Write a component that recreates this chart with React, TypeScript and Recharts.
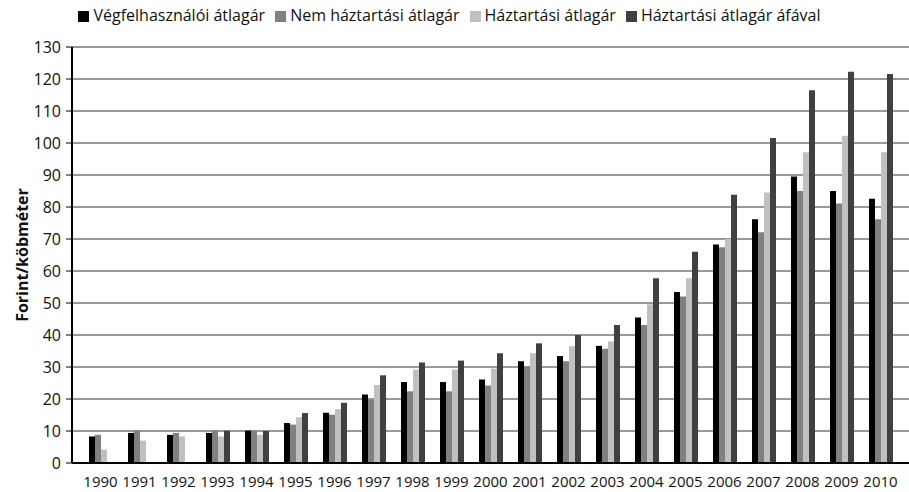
import { Bar, BarChart, CartesianGrid, Legend, XAxis, YAxis } from "recharts";

const years = [
  "1990", "1991", "1992", "1993", "1994", "1995", "1996", "1997", "1998", "1999", "2000",
  "2001", "2002", "2003", "2004", "2005", "2006", "2007", "2008", "2009", "2010"
];

// Végfelhasználói átlagár
const endUserAvg = [
  8.3, 9.4, 8.8, 9.4, 10.1, 12.5, 15.7, 21.4, 25.3, 25.3, 26.1,
  31.8, 33.4, 36.6, 45.5, 53.4, 68.3, 76.2, 89.5, 85.0, 82.6
];
// Nem háztartási átlagár
const nonHouseholdAvg = [
  8.8, 10.1, 9.4, 10.1, 10.1, 12.0, 15.1, 19.8, 22.4, 22.4, 24.2,
  30.2, 31.8, 35.7, 43.1, 52.0, 67.4, 72.1, 85.0, 81.1, 76.2
];
// Háztartási átlagár
const householdAvg = [
  4.2, 7.0, 8.3, 8.3, 8.8, 14.3, 16.8, 24.4, 29.2, 29.2, 29.5,
  34.3, 36.5, 38.0, 49.6, 57.7, 70.0, 84.5, 97.1, 102.3, 97.1
];
// Háztartási átlagár áfával
const householdVatAvg = [
  null, null, null, 10.1, 10.0, 15.6, 18.8, 27.4, 31.4, 32.0, 34.3,
  37.4, 40.0, 43.1, 57.7, 66.0, 83.8, 101.6, 116.5, 122.3, 121.6
];

const yTicks = [0, 10, 20, 30, 40, 50, 60, 70, 80, 90, 100, 110, 120, 130];

const seriesOrder = ["endUser", "nonHousehold", "household", "householdVat"];

const data = years.map((year, i) => ({
  year,
  endUser: endUserAvg[i],
  nonHousehold: nonHouseholdAvg[i],
  household: householdAvg[i],
  householdVat: householdVatAvg[i]
}));

const font = "'Open Sans', sans-serif";
const tickStyle = { fontSize: 15, fill: "#111", fontFamily: font };

export default function App() {
  return (
    <div style={{ position: "absolute", left: 0, top: 0, fontFamily: font }}>
      <BarChart
        width={909}
        height={492}
        data={data}
        margin={{ top: 25, right: 0, bottom: 0, left: 0 }}
        barCategoryGap={8}
        barGap={0}
      >
        <CartesianGrid vertical={false} stroke="#333" strokeWidth={1} />
        <XAxis
          dataKey="year"
          height={29}
          padding={{ left: 9, right: 9 }}
          tickLine={false}
          tickMargin={7}
          axisLine={{ stroke: "#000", strokeWidth: 2 }}
          tick={tickStyle}
          interval={0}
        />
        <YAxis
          width={72}
          domain={[0, 130]}
          ticks={yTicks}
          interval={0}
          tickSize={6}
          tickMargin={5}
          axisLine={{ stroke: "#000", strokeWidth: 2 }}
          tickLine={{ stroke: "#000" }}
          tick={{ ...tickStyle, fontSize: 16 }}
          label={{
            value: "Forint/köbméter",
            angle: -90,
            position: "insideLeft",
            offset: 22,
            style: { textAnchor: "middle", fontWeight: 700, fontSize: 16, fill: "#111", fontFamily: font }
          }}
        />
        <Legend
          verticalAlign="top"
          align="center"
          iconType="square"
          iconSize={11}
          itemSorter={(item) => seriesOrder.indexOf(String(item.dataKey))}
          wrapperStyle={{ top: 4, fontSize: 16, color: "#111", fontFamily: font }}
          formatter={(value) => <span style={{ color: "#111" }}>{value}</span>}
        />
        <Bar dataKey="endUser" name="Végfelhasználói átlagár" fill="#000000" isAnimationActive={false} />
        <Bar dataKey="nonHousehold" name="Nem háztartási átlagár" fill="#808080" isAnimationActive={false} />
        <Bar dataKey="household" name="Háztartási átlagár" fill="#c0c0c0" isAnimationActive={false} />
        <Bar dataKey="householdVat" name="Háztartási átlagár áfával" fill="#404040" isAnimationActive={false} />
      </BarChart>
    </div>
  );
}
